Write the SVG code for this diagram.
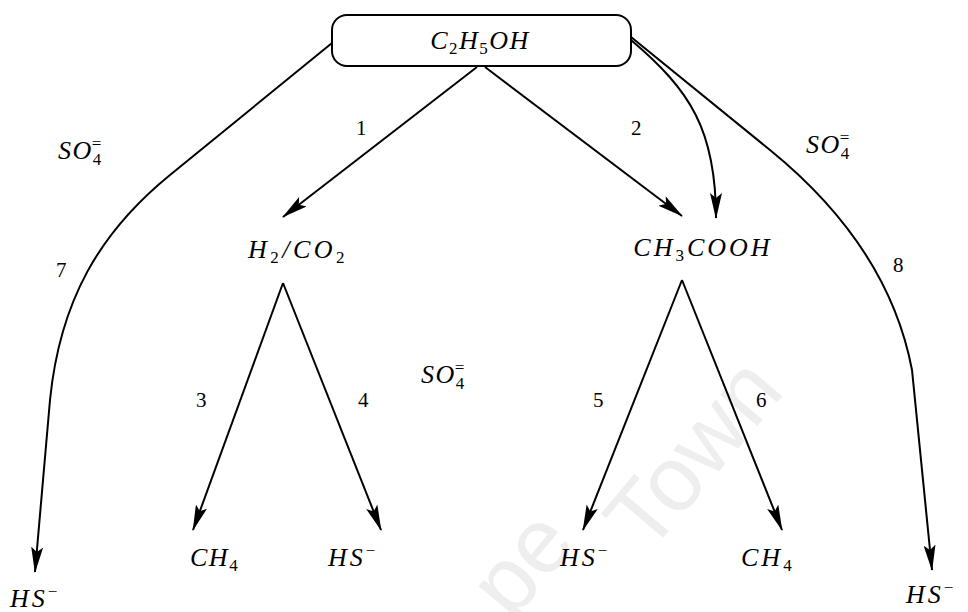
<svg xmlns="http://www.w3.org/2000/svg" width="968" height="612" viewBox="0 0 968 612">
<style>
.ln{fill:none;stroke:#000;stroke-width:2}
.m{font-family:"Liberation Serif","DejaVu Serif",serif;font-style:italic;font-size:26px;fill:#000;letter-spacing:1.5px}
.sub{font-style:normal;font-size:17px}
.sup{font-style:normal;font-size:17px}
.n{font-family:"Liberation Serif","DejaVu Serif",serif;font-size:21px;fill:#000}
.wm{font-family:"Liberation Sans",Arial,sans-serif;font-size:92px;fill:#eeeeee}
</style>
<defs>
<marker id="ah" viewBox="0 0 26 12" refX="25" refY="6" markerWidth="26" markerHeight="12" markerUnits="userSpaceOnUse" orient="auto">
<path d="M0,0 L26,6 L0,12 L5,6 z" fill="#000"/>
</marker>
</defs>
<g id="watermark">
<text class="wm" x="512" y="622" transform="rotate(-50 512 622)">pe</text>
<text class="wm" x="648" y="556" transform="rotate(-50 648 556)">Town</text>
</g>
<g id="connectors">
<path class="ln" d="M477,67 L283,217" marker-end="url(#ah)"/>
<path class="ln" d="M485,67 L682,216" marker-end="url(#ah)"/>
<path class="ln" d="M631,40 C690,90 716,130 716,218" marker-end="url(#ah)"/>
<path class="ln" d="M332,43 L170,175 C100,232 60,300 50,400 L35,572" marker-end="url(#ah)"/>
<path class="ln" d="M631,37 L770,150 C840,207 895,280 912,370 L932,570" marker-end="url(#ah)"/>
<path class="ln" d="M283,283 L193,530" marker-end="url(#ah)"/>
<path class="ln" d="M283,283 L381,530" marker-end="url(#ah)"/>
<path class="ln" d="M682,280 L583,530" marker-end="url(#ah)"/>
<path class="ln" d="M682,280 L782,530" marker-end="url(#ah)"/>
</g>
<g id="n-c2h5oh">
<rect x="332" y="15" width="299" height="51" rx="15" ry="15" fill="#fff" stroke="#000" stroke-width="2"/>
<text class="m" x="480" y="49" text-anchor="middle">C<tspan class="sub" dy="5">2</tspan><tspan dy="-5">H</tspan><tspan class="sub" dy="5">5</tspan><tspan dy="-5">OH</tspan></text>
</g>
<g id="n-h2co2">
<text class="m" x="298" y="258" text-anchor="middle" style="letter-spacing:3.5px">H<tspan class="sub" dy="5">2</tspan><tspan dy="-5">/CO</tspan><tspan class="sub" dy="5">2</tspan></text>
</g>
<g id="n-ch3cooh">
<text class="m" x="703" y="256" text-anchor="middle" style="letter-spacing:3px">CH<tspan class="sub" dy="5">3</tspan><tspan dy="-5">COOH</tspan></text>
</g>
<g id="n-ch4-a">
<text class="m" x="190" y="566">CH<tspan class="sub" dy="5">4</tspan></text>
</g>
<g id="n-hs-a">
<text class="m" x="328" y="566" style="letter-spacing:3px">HS<tspan class="sup" dy="-10">−</tspan></text>
</g>
<g id="n-hs-b">
<text class="m" x="560" y="566" style="letter-spacing:3px">HS<tspan class="sup" dy="-10">−</tspan></text>
</g>
<g id="n-ch4-b">
<text class="m" x="741" y="566" style="letter-spacing:3px">CH<tspan class="sub" dy="5">4</tspan></text>
</g>
<g id="n-hs-left">
<text class="m" x="10" y="607" style="letter-spacing:3px">HS<tspan class="sup" dy="-10">−</tspan></text>
</g>
<g id="n-hs-right">
<text class="m" x="906" y="603" style="letter-spacing:3px">HS<tspan class="sup" dy="-10">−</tspan></text>
</g>
<g id="labels">
<text class="m" x="58" y="159">SO<tspan class="sub" dy="6">4</tspan><tspan class="sub" dx="-11" dy="-16">=</tspan></text>
<text class="m" x="806" y="153">SO<tspan class="sub" dy="6">4</tspan><tspan class="sub" dx="-11" dy="-16">=</tspan></text>
<text class="m" x="421" y="383">SO<tspan class="sub" dy="6">4</tspan><tspan class="sub" dx="-11" dy="-16">=</tspan></text>
<text class="n" x="356" y="135">1</text>
<text class="n" x="631" y="135">2</text>
<text class="n" x="196" y="407">3</text>
<text class="n" x="358" y="407">4</text>
<text class="n" x="593" y="407">5</text>
<text class="n" x="756" y="407">6</text>
<text class="n" x="56" y="277">7</text>
<text class="n" x="893" y="272">8</text>
</g>
</svg>
